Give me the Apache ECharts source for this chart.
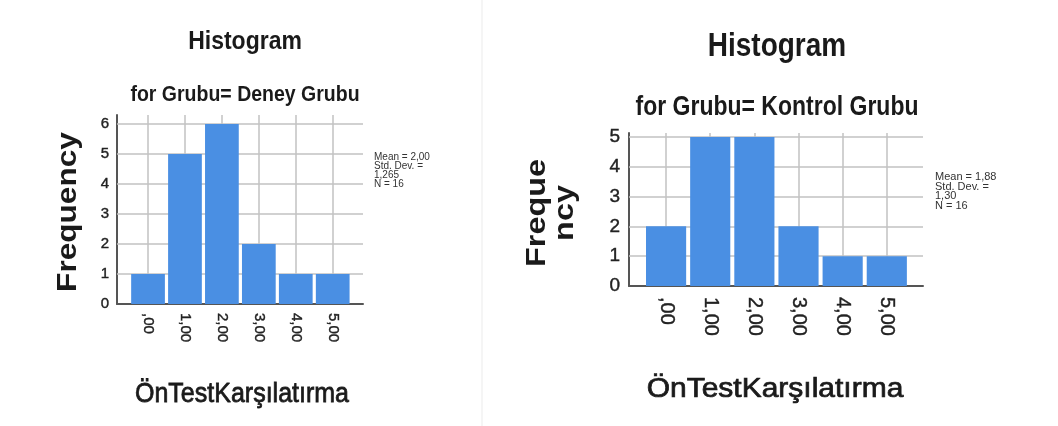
<!DOCTYPE html>
<html>
<head>
<meta charset="utf-8">
<script src="https://cdn.jsdelivr.net/npm/echarts@6/dist/echarts.min.js"></script>
<style>
html,body{margin:0;padding:0;background:#fff;}
#chart{width:1058px;height:426px;}
</style>
</head>
<body>
<div id="chart"></div>
<script>
// ---- data ----
var bins = [0, 1, 2, 3, 4, 5];
var binLabels = [',00', '1,00', '2,00', '3,00', '4,00', '5,00'];
var deneyFreq = [1, 5, 6, 2, 1, 1];
var kontrolFreq = [2, 5, 5, 2, 1, 1];
var deneyYTicks = [0, 1, 2, 3, 4, 5, 6];
var kontrolYTicks = [0, 1, 2, 3, 4, 5];
var deneyStats = ['Mean = 2,00', 'Std. Dev. =', '1,265', 'N = 16'];
var kontrolStats = ['Mean = 1,88', 'Std. Dev. =', '1,30', 'N = 16'];
var titleText = 'Histogram';
var deneySub = 'for Grubu= Deney Grubu';
var kontrolSub = 'for Grubu= Kontrol Grubu';
var xName = 'ÖnTestKarşılatırma';
var yName = 'Frequency';

var FONT = '"Liberation Sans", Arial, sans-serif';
var BAR = '#4a8fe3';
var GRID = '#c2c2c2';
var AXIS = '#555555';

function toPairs(vals) { return bins.map(function (b, i) { return [b, vals[i]]; }); }

function makeRender(gap) {
  return function (params, api) {
    var x = api.value(0), y = api.value(1);
    var p0 = api.coord([x - 0.5, y]);
    var p1 = api.coord([x + 0.5, 0]);
    return {
      type: 'rect',
      shape: { x: p0[0] + gap, y: p0[1], width: p1[0] - p0[0] - 2 * gap, height: p1[1] - p0[1] },
      style: { fill: BAR }
    };
  };
}

function gridLines(yTicks) {
  var d = bins.map(function (b) { return { xAxis: b }; });
  yTicks.forEach(function (t) { if (t > 0) d.push({ yAxis: t }); });
  return {
    silent: true, z: 1, symbol: 'none', label: { show: false },
    lineStyle: { type: 'solid', color: GRID, width: 1.5 },
    emphasis: { disabled: true },
    data: d
  };
}

function xAxisCfg(idx, fs, margin) {
  return {
    type: 'value', gridIndex: idx, min: -0.84, max: 5.82,
    axisLine: { show: true, onZero: false, lineStyle: { color: AXIS, width: 2 } },
    axisTick: { show: false },
    splitLine: { show: false },
    axisLabel: {
      customValues: bins, rotate: -90, margin: margin, color: '#222', fontSize: fs, fontFamily: FONT,
      textBorderColor: '#222', textBorderWidth: 0.4,
      formatter: function (v) { var i = bins.indexOf(v); return i >= 0 ? binLabels[i] : ''; }
    }
  };
}
function yAxisCfg(idx, max, ticks, fs, margin) {
  return {
    type: 'value', gridIndex: idx, min: 0, max: max, interval: 1,
    axisLine: { show: true, onZero: false, lineStyle: { color: AXIS, width: 2 } },
    axisTick: { show: false },
    splitLine: { show: false },
    axisLabel: {
      customValues: ticks, margin: margin, color: '#222', fontSize: fs, fontFamily: FONT,
      textBorderColor: '#222', textBorderWidth: 0.4,
      formatter: function (v) { return ticks.indexOf(v) >= 0 ? String(v) : ''; }
    }
  };
}

function txt(text, x, y, opt) {
  opt = opt || {};
  var st = {
    text: text, fill: opt.color || '#1a1a1a',
    font: (opt.weight || 'normal') + ' ' + opt.size + 'px ' + FONT,
    textAlign: opt.align || 'center', textVerticalAlign: 'middle'
  };
  if (opt.stroke) { st.stroke = opt.color || '#1a1a1a'; st.lineWidth = opt.stroke; }
  return {
    type: 'text', x: x, y: y, rotation: opt.rotation || 0,
    scaleX: opt.sx || 1, scaleY: opt.sy || 1, silent: true,
    style: st
  };
}

var graphics = [
  { type: 'line', shape: { x1: 482, y1: 0, x2: 482, y2: 426 }, style: { stroke: '#f2f2f2', lineWidth: 1.5 }, silent: true },
  txt(titleText, 245, 42, { size: 23, weight: 'bold', sy: 1.15 }),
  txt(deneySub, 245, 95, { size: 19.5, weight: 'bold', sy: 1.17 }),
  txt(yName, 69, 212, { size: 27, weight: 'bold', rotation: Math.PI / 2, sx: 1.17 }),
  txt(xName, 242, 394, { size: 25, sy: 1.1, stroke: 0.7 }),
  txt(titleText, 777, 47, { size: 28, weight: 'bold', sy: 1.2 }),
  txt(kontrolSub, 777, 107, { size: 23, weight: 'bold', sy: 1.2 }),
  txt('Freque', 538, 213, { size: 27, weight: 'bold', rotation: Math.PI / 2, sx: 1.2 }),
  txt('ncy', 566, 213, { size: 27, weight: 'bold', rotation: Math.PI / 2, sx: 1.2 }),
  txt(xName, 775, 390, { size: 30, sy: 0.9, stroke: 0.8 })
];
deneyStats.forEach(function (s, i) { graphics.push(txt(s, 374, 157 + i * 9, { size: 10, align: 'left', color: '#333' })); });
kontrolStats.forEach(function (s, i) { graphics.push(txt(s, 935, 177 + i * 9.6, { size: 11, align: 'left', color: '#333' })); });

var option = {
  animation: false,
  backgroundColor: '#ffffff',
  grid: [
    { left: 117, top: 115, width: 246, height: 189 },
    { left: 629, top: 133, width: 294, height: 153 }
  ],
  xAxis: [xAxisCfg(0, 15, 9), xAxisCfg(1, 20, 11)],
  yAxis: [yAxisCfg(0, 6.3, deneyYTicks, 15, 8), yAxisCfg(1, 5.13, kontrolYTicks, 19, 9)],
  series: [
    {
      type: 'custom', name: 'Deney Grubu', xAxisIndex: 0, yAxisIndex: 0, z: 2,
      data: toPairs(deneyFreq), encode: { x: 0, y: 1 },
      renderItem: makeRender(1.6), markLine: gridLines(deneyYTicks)
    },
    {
      type: 'custom', name: 'Kontrol Grubu', xAxisIndex: 1, yAxisIndex: 1, z: 2,
      data: toPairs(kontrolFreq), encode: { x: 0, y: 1 },
      renderItem: makeRender(2), markLine: gridLines(kontrolYTicks)
    }
  ],
  graphic: graphics
};

var chart = echarts.init(document.getElementById('chart'), null, { renderer: 'canvas' });
chart.setOption(option);
</script>
</body>
</html>
